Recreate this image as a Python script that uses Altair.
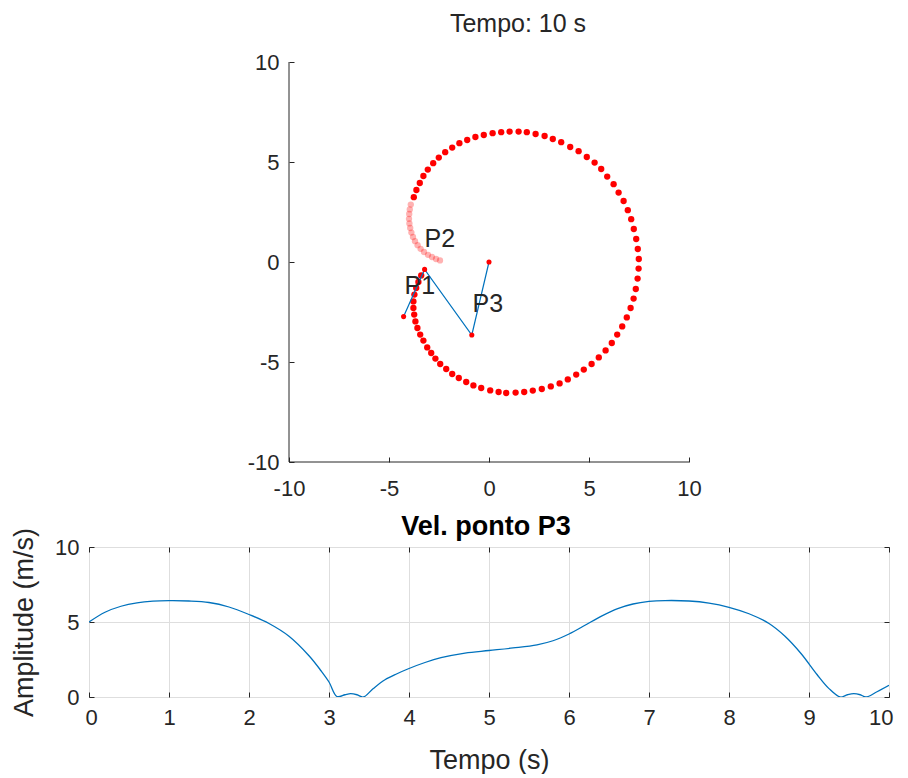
import altair as alt
import pandas as pd

# ---------------- data ----------------
# trajectory dots (upper chart), in drawing order
traj_x = [-2.45, -2.65, -2.85, -3.05, -3.25, -3.42, -3.57, -3.70, -3.80, -3.88, -3.94, -3.98, -4.00, -3.99, -3.96, -3.91,
          -3.76, -3.63, -3.46, -3.28, -3.06, -2.79, -2.51, -2.19, -1.84, -1.48, -1.09, -0.68, -0.26, 0.18, 0.61,
          1.03, 1.48, 1.89, 2.33, 2.78, 3.19, 3.61, 4.06, 4.48, 4.89, 5.28, 5.61, 5.91, 6.23, 6.48, 6.73, 6.94, 7.11, 7.24, 7.36, 7.44, 7.49,
          7.48, 7.43, 7.34, 7.23, 7.08, 6.89, 6.66, 6.41, 6.14, 5.83, 5.49, 5.13, 4.74, 4.36, 3.94, 3.53, 3.09, 2.64, 2.19, 1.76, 1.33,
          0.86, 0.48, 0.06, -0.39, -0.78, -1.14, -1.51, -1.84, -2.14, -2.44, -2.68, -2.89, -3.09, -3.28, -3.44, -3.58, -3.68, -3.74,
          -3.78, -3.78, -3.73, -3.64, -3.53, -3.39]
traj_y = [0.08, 0.15, 0.25, 0.36, 0.50, 0.66, 0.84, 1.04, 1.25, 1.47, 1.70, 1.93, 2.16, 2.40, 2.63, 2.87,
          3.24, 3.60, 3.95, 4.30, 4.62, 4.94, 5.22, 5.49, 5.72, 5.94, 6.10, 6.25, 6.35, 6.44, 6.49,
          6.52, 6.52, 6.49, 6.40, 6.30, 6.15, 5.99, 5.75, 5.54, 5.25, 4.97, 4.65, 4.27, 3.89, 3.47, 3.05, 2.59, 2.14, 1.65, 1.15, 0.65, 0.15,
          -0.33, -0.83, -1.35, -1.83, -2.30, -2.77, -3.22, -3.63, -4.05, -4.42, -4.77, -5.10, -5.38, -5.63, -5.87, -6.07, -6.22, -6.35, -6.43, -6.50, -6.53,
          -6.55, -6.50, -6.42, -6.30, -6.17, -6.00, -5.80, -5.60, -5.35, -5.10, -4.83, -4.55, -4.27, -3.93, -3.63, -3.30, -2.97, -2.63,
          -2.30, -1.97, -1.63, -1.30, -1.00, -0.67]
N_FADED = 16  # first dots of the trail are drawn pale

# mechanism joints
joint_x = [-4.27, -3.22, -0.86, 0.0]
joint_y = [-2.73, -0.37, -3.65, 0.0]

# point labels
label_text = ["P1", "P2", "P3"]
label_x = [-4.22, -3.22, -0.82]
label_y = [-1.20, 1.15, -2.10]

# velocity of P3
t_vals = [0, 0.2, 0.4, 0.6, 0.8, 1.0, 1.25, 1.5, 1.75, 2.0, 2.25, 2.5, 2.75, 2.9, 3.0, 3.1, 3.2, 3.27, 3.35, 3.43,
          3.55, 3.7, 3.85, 4.0, 4.2, 4.4, 4.7, 5.0, 5.3, 5.6, 5.8, 6.0, 6.2, 6.4, 6.6, 6.8, 7.0, 7.2, 7.5, 7.75,
          8.0, 8.25, 8.5, 8.7, 8.9, 9.1, 9.25, 9.39, 9.48, 9.56, 9.64, 9.71, 9.85, 10.0]
v_vals = [5.0, 5.65, 6.05, 6.28, 6.39, 6.42, 6.4, 6.3, 6.0, 5.5, 4.9, 4.05, 2.75, 1.75, 1.0, 0.03, 0.15, 0.22, 0.15, 0.0,
          0.55, 1.15, 1.55, 1.9, 2.3, 2.62, 2.93, 3.1, 3.27, 3.48, 3.75, 4.2, 4.78, 5.38, 5.88, 6.2, 6.37, 6.43, 6.4, 6.26,
          5.98, 5.55, 4.9, 4.05, 2.9, 1.5, 0.56, 0.0, 0.15, 0.22, 0.15, 0.0, 0.35, 0.78]

top_ticks = [-10, -5, 0, 5, 10]
bottom_x_ticks = [0, 1, 2, 3, 4, 5, 6, 7, 8, 9, 10]
bottom_y_ticks = [0, 5, 10]

# ---------------- styling ----------------
FONT = "Liberation Sans"
TXT = "#262626"
BLUE = "#0072BD"
RED = "#FF0000"

traj = pd.DataFrame({"x": traj_x, "y": traj_y, "i": list(range(len(traj_x)))})
joints = pd.DataFrame({"x": joint_x, "y": joint_y, "k": list(range(len(joint_x)))})
labels = pd.DataFrame({"x": label_x, "y": label_y, "txt": label_text})
vel = pd.DataFrame({"t": t_vals, "v": v_vals})
one = pd.DataFrame({"a": [0]})

xs = alt.Scale(domain=[-10, 10], nice=False, zero=False)
ys = alt.Scale(domain=[-10, 10], nice=False, zero=False)


def tick_axis(values, **kw):
    base = dict(values=values, labelExpr="'' + datum.value", domain=False, offset=-5, tickSize=5,
                tickColor=TXT, labelColor=TXT, labelFont=FONT, labelFontSize=22, title=None, grid=False,
                labelFlush=False, labelOverlap=False)
    base.update(kw)
    return alt.Axis(**base)


X = alt.X("x:Q", scale=xs, axis=tick_axis(top_ticks, labelPadding=16))
Y = alt.Y("y:Q", scale=ys, axis=tick_axis(top_ticks, labelPadding=10))

dots = alt.Chart(traj).mark_circle(color=RED, size=40).encode(
    x=X, y=Y,
    opacity=alt.condition(f"datum.i < {N_FADED}", alt.value(0.3), alt.value(1.0)),
)
links = alt.Chart(joints).mark_line(color=BLUE, strokeWidth=1.2).encode(x="x:Q", y="y:Q", order="k:Q")
jdots = alt.Chart(joints).mark_circle(color=RED, size=26, opacity=1).encode(x="x:Q", y="y:Q")
txt = alt.Chart(labels).mark_text(align="left", baseline="middle", font=FONT, fontSize=25, color=TXT).encode(
    x="x:Q", y="y:Q", text="txt:N")
left_line = alt.Chart(one).mark_rule(color=TXT, strokeWidth=1).encode(x=alt.datum(-10), y=alt.datum(-10), y2=alt.datum(10))
bottom_line = alt.Chart(one).mark_rule(color=TXT, strokeWidth=1).encode(y=alt.datum(-10), x=alt.datum(-10), x2=alt.datum(10))

top = alt.layer(left_line, bottom_line, dots, links, jdots, txt).properties(
    width=400, height=400,
    title=alt.TitleParams("Tempo: 10 s", font=FONT, fontSize=25, fontWeight="normal", color=TXT, dx=29, offset=14),
    view=alt.ViewBackground(strokeOpacity=0),
)

GRID = "#dedede"
bx_scale = alt.Scale(domain=[0, 10], nice=False)
by_scale = alt.Scale(domain=[0, 10], nice=False)

vline = alt.Chart(vel).mark_line(color=BLUE, strokeWidth=1.3, interpolate="catmull-rom", clip=True).encode(
    x=alt.X("t:Q", scale=bx_scale, axis=tick_axis(bottom_x_ticks, grid=True, gridColor=GRID, labelPadding=10,
                                                   labelFlush=True, labelFlushOffset=4,
                                                   title="Tempo (s)", titleFont=FONT, titleFontSize=27,
                                                   titleFontWeight="normal", titleColor=TXT, titlePadding=19)),
    y=alt.Y("v:Q", scale=by_scale, axis=tick_axis(bottom_y_ticks, grid=True, gridColor=GRID, labelPadding=10,
                                                   title="Amplitude (m/s)", titleFont=FONT, titleFontSize=27,
                                                   titleFontWeight="normal", titleColor=TXT, titlePadding=16)),
)
vticks = alt.Chart(vel).mark_line(opacity=0).encode(
    x=alt.X("t:Q", scale=bx_scale, axis=tick_axis(bottom_x_ticks, orient="top", labels=False)),
    y=alt.Y("v:Q", scale=by_scale, axis=tick_axis(bottom_y_ticks, orient="right", labels=False)),
)

bottom = alt.layer(vline, vticks).resolve_axis(x="independent", y="independent").properties(
    width=800, height=150,
    title=alt.TitleParams("Vel. ponto P3", font=FONT, fontSize=27, fontWeight="bold", color="#000000", dx=-3, offset=-14),
    view=alt.ViewBackground(stroke=TXT, strokeWidth=1),
)

chart = alt.vconcat(top, bottom, spacing=85, center=True, bounds="flush").properties(
    padding={"left": 2, "top": 4, "right": 0, "bottom": 0},
).configure(background="white")

chart.save("out.html", embed_options={"renderer": "svg", "actions": False})
